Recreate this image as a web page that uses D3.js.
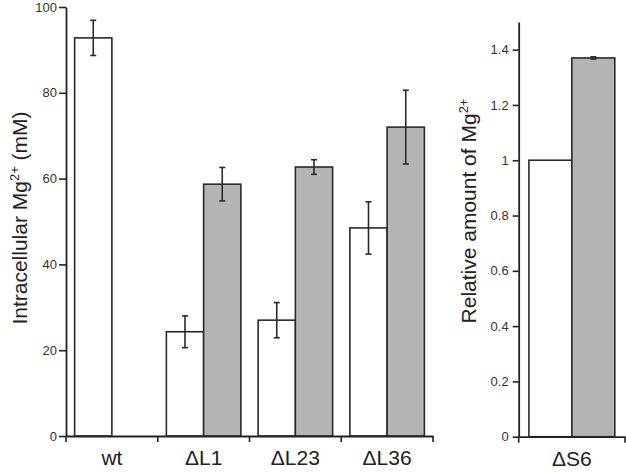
<!DOCTYPE html>
<html><head><meta charset="utf-8">
<script src="https://cdn.jsdelivr.net/npm/d3@7"></script>
<style>
html,body{margin:0;padding:0;background:#fff;}
svg{display:block;font-family:"Liberation Sans",Arial,sans-serif;}
</style></head>
<body>
<svg id="c" width="626" height="472"></svg>
<script>
// ---- data ----
const categories = ["wt", "ΔL1", "ΔL23", "ΔL36"];
const series = ["open", "filled"];
const openValues = [92.8, 24.3, 27.0, 48.5];
const openErrors = [4.1, 3.7, 4.1, 6.1];
const filledValues = [null, 58.7, 62.7, 72.0];
const filledErrors = [null, 3.9, 1.7, 8.6];
const leftTicks = [0, 20, 40, 60, 80, 100];

const categories2 = ["ΔS6"];
const openValues2 = [1.0];
const openErrors2 = [null];
const filledValues2 = [1.37];
const filledErrors2 = [0.004];
const rightTicks = [0, 0.2, 0.4, 0.6, 0.8, 1, 1.2, 1.4];

const svg = d3.select("#c");
const axisColor = "#222";
const fills = {open: "#ffffff", filled: "#b4b4b4"};

function panel(opts) {
  const {cats, ov, oe, fv, fe, yDomain, yRange, xRange, ticks, tickSize, tickPad, padFrac, label, labelX, labelY, labelSize} = opts;
  const x = d3.scaleBand().domain(cats).range(xRange).paddingInner(0).paddingOuter(0);
  const y = d3.scaleLinear().domain(yDomain).range(yRange);
  const inner = d3.scaleBand().domain(series)
    .range([x.bandwidth() * padFrac, x.bandwidth() * (1 - padFrac)]).padding(0);
  const g = svg.append("g");

  const rows = [];
  cats.forEach((c, i) => {
    if (ov[i] != null) rows.push({c, s: "open", v: ov[i], e: oe[i]});
    if (fv[i] != null) rows.push({c, s: "filled", v: fv[i], e: fe[i]});
  });

  g.selectAll("rect.bar").data(rows).join("rect")
    .attr("class", "bar")
    .attr("x", d => x(d.c) + inner(d.s))
    .attr("width", inner.bandwidth())
    .attr("y", d => y(d.v))
    .attr("height", d => y(yDomain[0]) - y(d.v))
    .attr("fill", d => fills[d.s])
    .attr("stroke", "#2a2a2a")
    .attr("stroke-width", 1.6);

  const eb = rows.filter(d => d.e != null);
  const cx = d => x(d.c) + inner(d.s) + inner.bandwidth() / 2;
  const cap = 3;
  const eg = g.selectAll("g.err").data(eb).join("g").attr("class", "err")
    .attr("stroke", "#2a2a2a").attr("stroke-width", 1.6);
  eg.append("line").attr("x1", cx).attr("x2", cx)
    .attr("y1", d => y(d.v + d.e)).attr("y2", d => y(d.v - d.e));
  eg.append("line").attr("x1", d => cx(d) - cap).attr("x2", d => cx(d) + cap)
    .attr("y1", d => y(d.v + d.e)).attr("y2", d => y(d.v + d.e));
  eg.append("line").attr("x1", d => cx(d) - cap).attr("x2", d => cx(d) + cap)
    .attr("y1", d => y(d.v - d.e)).attr("y2", d => y(d.v - d.e));

  // y axis
  const ya = g.append("g").attr("transform", `translate(${xRange[0]},0)`)
    .call(d3.axisLeft(y).tickValues(ticks).tickFormat(d => String(d))
      .tickSize(tickSize).tickPadding(tickPad).tickSizeOuter(0));
  ya.select(".domain").attr("stroke", axisColor).attr("stroke-width", 1.8);
  ya.selectAll(".tick line").attr("stroke", axisColor).attr("stroke-width", 1.6);
  ya.selectAll(".tick text").attr("font-size", 13).attr("fill", "#333")
    .attr("font-family", "Liberation Sans, Arial, sans-serif");

  // x axis
  const y0 = y(yDomain[0]);
  const xa = g.append("g").attr("transform", `translate(0,${y0})`)
    .call(d3.axisBottom(x).tickSize(0).tickPadding(14).tickSizeOuter(0));
  xa.select(".domain").attr("stroke", axisColor).attr("stroke-width", 1.8);
  xa.selectAll(".tick text").attr("font-size", 21).attr("fill", "#222")
    .attr("font-family", "Liberation Sans, Arial, sans-serif");
  const bounds = cats.map(c => x(c)).concat([xRange[1]]);
  xa.selectAll("line.bt").data(bounds).join("line").attr("class", "bt")
    .attr("x1", d => d).attr("x2", d => d).attr("y1", 0).attr("y2", 6)
    .attr("stroke", axisColor).attr("stroke-width", 1.6);

  // y label
  const t = g.append("text")
    .attr("transform", `translate(${labelX},${labelY}) rotate(-90)`)
    .attr("text-anchor", "middle").attr("font-size", labelSize).attr("fill", "#222");
  t.append("tspan").text(label[0]);
  t.append("tspan").text("2+").attr("font-size", 13).attr("dy", -8);
  if (label[1]) t.append("tspan").text(label[1]).attr("dy", 8);
}

panel({
  cats: categories, ov: openValues, oe: openErrors, fv: filledValues, fe: filledErrors,
  yDomain: [0, 100], yRange: [436, 7], xRange: [66, 433],
  ticks: leftTicks, tickSize: 7, tickPad: 2, padFrac: 0.094,
  label: ["Intracellular Mg", " (mM)"], labelX: 27, labelY: 218, labelSize: 21
});
panel({
  cats: categories2, ov: openValues2, oe: openErrors2, fv: filledValues2, fe: filledErrors2,
  yDomain: [0, 1.5], yRange: [436.7, 22], xRange: [518.7, 625],
  ticks: rightTicks, tickSize: 6, tickPad: 4, padFrac: 0.096,
  label: ["Relative amount of Mg", null], labelX: 476, labelY: 211, labelSize: 21
});
</script>
</body></html>
